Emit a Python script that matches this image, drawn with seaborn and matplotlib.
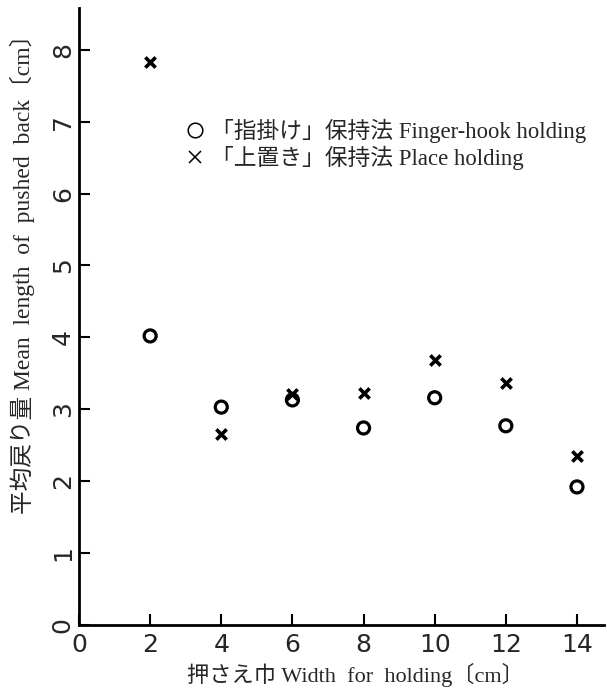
import numpy as np
import pandas as pd
import matplotlib
matplotlib.use("Agg")
import matplotlib.pyplot as plt
from matplotlib.lines import Line2D
import seaborn as sns

# ---- data ----
widths = [2, 4, 6, 8, 10, 12, 14]
finger_hook = [4.02, 3.03, 3.13, 2.74, 3.16, 2.77, 1.92]
place = [7.83, 2.65, 3.21, 3.23, 3.69, 3.37, 2.35]
x_ticks = [0, 2, 4, 6, 8, 10, 12, 14]
y_ticks = [0, 1, 2, 3, 4, 5, 6, 7, 8]
label_finger = "「指掛け」保持法 Finger-hook holding"
label_place = "「上置き」保持法 Place holding"
x_label = "押さえ巾 Width  for  holding〔cm〕"
y_label = "平均戻り量 Mean  length  of  pushed  back〔cm〕"

df_f = pd.DataFrame({"width": widths, "value": finger_hook})
df_p = pd.DataFrame({"width": widths, "value": place})

sns.set_style("ticks")
serif_jp = ["Liberation Serif", "Noto Sans CJK JP"]

fig = plt.figure(figsize=(6.07, 6.93), dpi=100)
W, H = 607, 693
ax = fig.add_axes([79 / W, (H - 625) / H, 525 / W, 617 / H])

sns.scatterplot(data=df_f, x="width", y="value", ax=ax, marker="o",
                s=75, facecolors="none", edgecolor="black", linewidth=2.3)
sns.scatterplot(data=df_p, x="width", y="value", ax=ax, marker="x",
                s=55, color="black", linewidth=2.6)

ax.set_xlim(0, 14.76)
ax.set_ylim(0, 8.58)
ax.set_xticks(x_ticks)
ax.set_yticks(y_ticks)
ax.set_xticklabels([str(t) for t in x_ticks], fontsize=18, family="DejaVu Sans")
ax.set_yticklabels([str(t) for t in y_ticks], fontsize=18, family="DejaVu Sans",
                   rotation=90, va="center")
ax.tick_params(axis="both", direction="in", length=8, width=1.5, color="black")
ax.tick_params(axis="x", pad=6)
ax.tick_params(axis="y", pad=3)
for s in ["top", "right"]:
    ax.spines[s].set_visible(False)
for s in ["left", "bottom"]:
    ax.spines[s].set_linewidth(2)
    ax.spines[s].set_color("black")

ax.set_xlabel(x_label, fontsize=16, family=serif_jp)
ax.set_ylabel(y_label, fontsize=17, family=serif_jp)
ax.xaxis.set_label_coords((355 - 79) / 525, -(663 - 625) / 617)
ax.yaxis.set_label_coords((35 - 79) / 525, (625 - 268) / 617)

handles = [
    Line2D([], [], marker="o", ls="none", mfc="none", mec="black", ms=10.5, mew=1.1),
    Line2D([], [], marker="x", ls="none", color="black", ms=9, mew=1.1),
]
ax.legend(handles, [label_finger, label_place], loc="upper left",
          bbox_to_anchor=((184 - 79) / 525, 1 - (119 - 8) / 617),
          frameon=False, handlelength=1.0, handletextpad=0.2, borderpad=0,
          borderaxespad=0, labelspacing=0.1,
          prop={"family": serif_jp, "size": 16.4})

fig.savefig("out.png", dpi=100)
